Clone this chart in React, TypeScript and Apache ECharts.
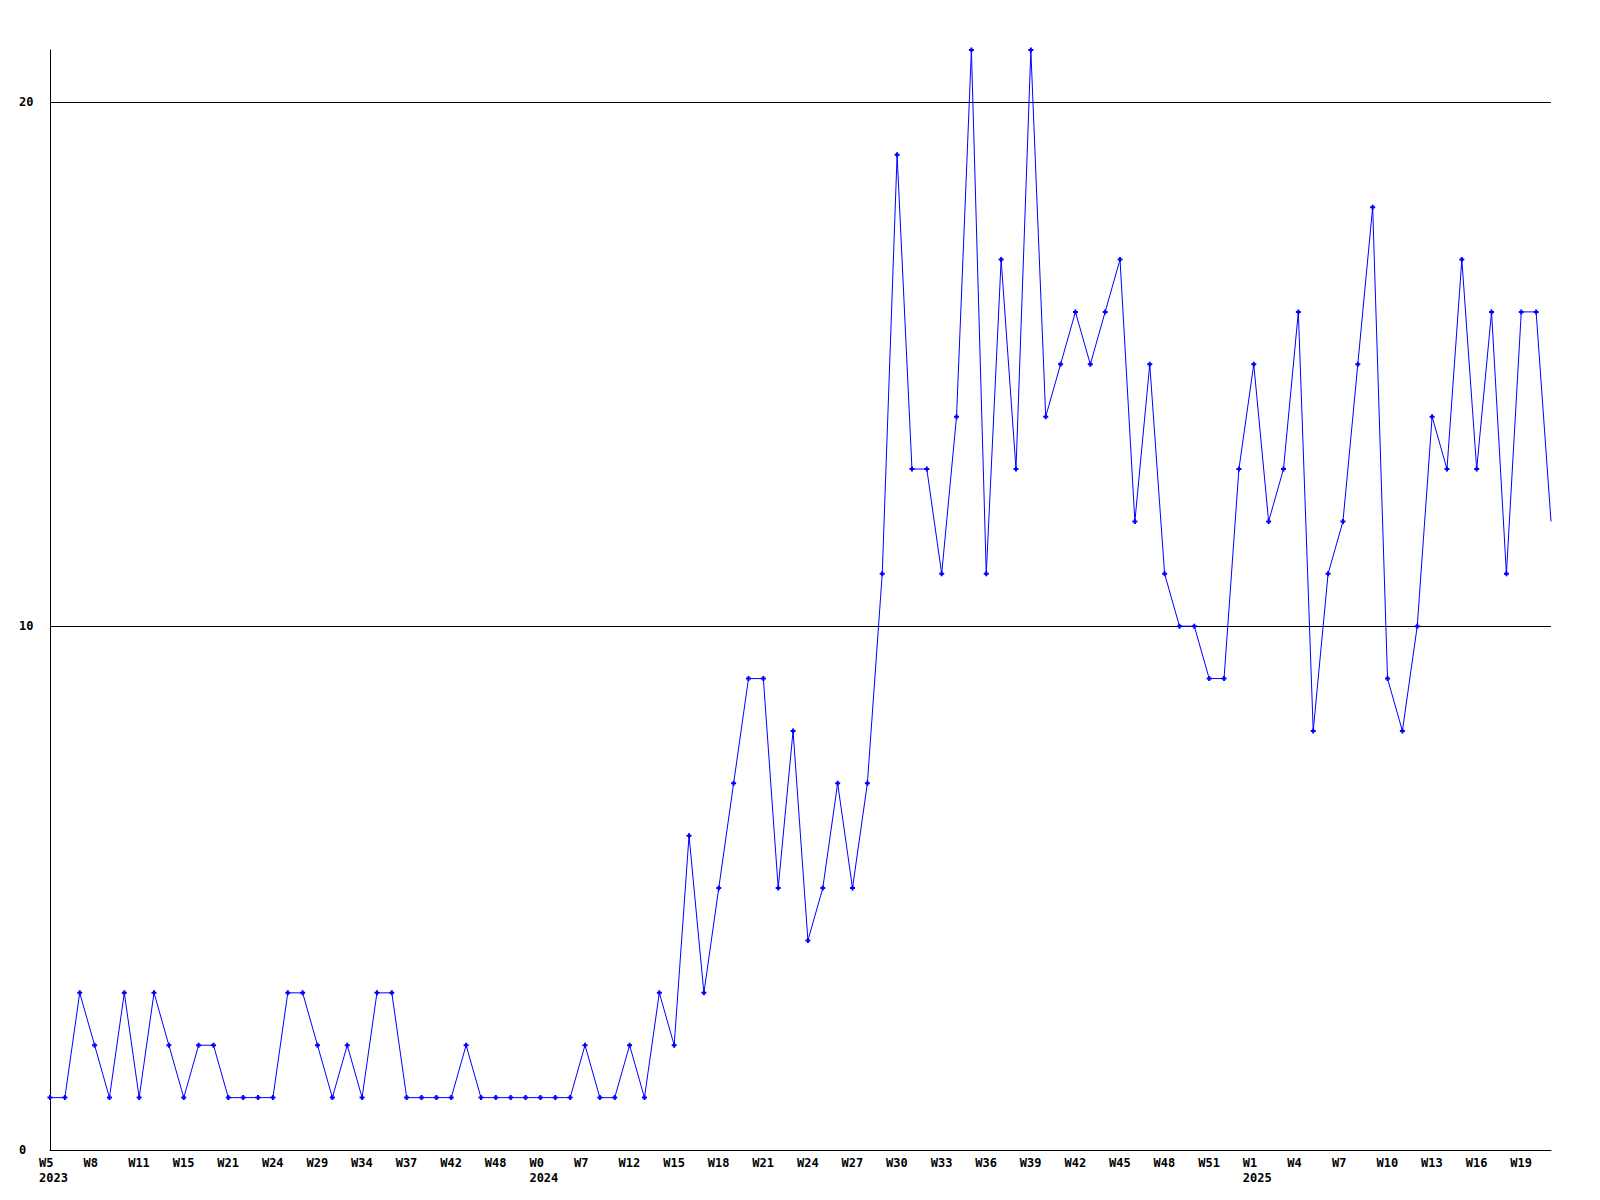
import React, { useEffect, useRef } from 'react';
import * as echarts from 'echarts';

// Weekly counts, one per data point (first point = 2023 W5)
const values: number[] = [
  1, 1, 3, 2, 1, 3, 1, 3, 2, 1,
  2, 2, 1, 1, 1, 1, 3, 3, 2, 1,
  2, 1, 3, 3, 1, 1, 1, 1, 2, 1,
  1, 1, 1, 1, 1, 1, 2, 1, 1, 2,
  1, 3, 2, 6, 3, 5, 7, 9, 9, 5,
  8, 4, 5, 7, 5, 7, 11, 19, 13, 13,
  11, 14, 21, 11, 17, 13, 21, 14, 15, 16,
  15, 16, 17, 12, 15, 11, 10, 10, 9, 9,
  13, 15, 12, 13, 16, 8, 11, 12, 15, 18,
  9, 8, 10, 14, 13, 17, 13, 16, 11, 16,
  16, 12,
];

// Category keys (one per point)
const categories: string[] = values.map((_, i) => String(i));

// Tick labels shown on every third point
const tickLabels: string[] = [
  'W5', 'W8', 'W11', 'W15', 'W21', 'W24', 'W29', 'W34', 'W37', 'W42', 'W48',
  'W0', 'W7', 'W12', 'W15', 'W18', 'W21', 'W24', 'W27', 'W30', 'W33', 'W36',
  'W39', 'W42', 'W45', 'W48', 'W51', 'W1', 'W4', 'W7', 'W10', 'W13', 'W16', 'W19',
];
const tickStep = 3;

// Year labels placed under the tick at given point index
const yearIndex: number[] = [0, 33, 81];
const yearText: string[] = ['2023', '2024', '2025'];

const yMin = 0;
const yMax = 21;
const yInterval = 10;
const gridValues: number[] = [10, 20];

const FONT = '"DejaVu Sans Mono", "Liberation Mono", monospace';

export default function App() {
  const ref = useRef<HTMLDivElement>(null);
  useEffect(() => {
    if (!ref.current) return;
    const chart = echarts.init(ref.current, undefined, { renderer: 'svg' });
    const lastIdx = values.length - 1;
    chart.setOption({
      animation: false,
      backgroundColor: '#ffffff',
      grid: { left: 50, right: 49, top: 50, bottom: 50, containLabel: false },
      xAxis: {
        type: 'category',
        data: categories,
        boundaryGap: false,
        axisLine: { show: true, lineStyle: { color: '#000', width: 1 } },
        axisTick: { show: false },
        splitLine: { show: false },
        axisLabel: {
          interval: tickStep - 1,
          margin: 5,
          align: 'center',
          formatter: (_v: string, idx: number) => {
            if (idx % tickStep !== 0) return '';
            const t = tickLabels[idx / tickStep];
            if (t === undefined) return '';
            const yi = yearIndex.indexOf(idx);
            return yi >= 0 ? `{a|${t}}\n{a|${yearText[yi]}}` : `{a|${t}}`;
          },
          rich: {
            a: {
              width: 22,
              align: 'left',
              fontFamily: FONT,
              fontWeight: 'bold',
              fontSize: 12,
              lineHeight: 15,
              color: '#000',
            },
          },
        },
      },
      yAxis: {
        type: 'value',
        min: yMin,
        max: yMax,
        interval: yInterval,
        axisLine: { show: true, lineStyle: { color: '#000', width: 1 } },
        axisTick: { show: false },
        splitLine: { show: false },
        axisLabel: {
          align: 'left',
          margin: 31,
          fontFamily: FONT,
          fontWeight: 'bold',
          fontSize: 12,
          color: '#000',
          showMaxLabel: false,
          formatter: (v: number) => (v % yInterval === 0 ? String(v) : ''),
        },
      },
      series: [
        {
          type: 'line',
          data: values.map((v, i) => (i === lastIdx ? { value: v, symbol: 'none' } : v)),
          symbol: 'path://M1.5,0H3.5V1.5H5V3.5H3.5V5H1.5V3.5H0V1.5H1.5Z',
          symbolSize: 5,
          showSymbol: true,
          showAllSymbol: true,
          lineStyle: { color: '#0000ff', width: 1 },
          itemStyle: { color: '#0000ff', borderWidth: 0 },
          z: 3,
          markLine: {
            silent: true,
            symbol: ['none', 'none'],
            label: { show: false },
            lineStyle: { color: '#000', width: 1, type: 'solid' },
            data: gridValues.map((g) => ({ yAxis: g })),
            z: 1,
          },
        },
      ],
    });
    return () => chart.dispose();
  }, []);
  return (
    <div
      ref={ref}
      style={{ position: 'fixed', left: 0, top: 0, width: 1600, height: 1200, background: '#fff' }}
    />
  );
}
